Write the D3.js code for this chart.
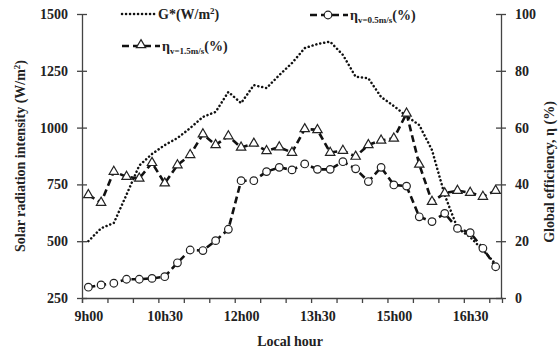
<!DOCTYPE html>
<html>
<head>
<meta charset="utf-8">
<script src="https://cdn.jsdelivr.net/npm/d3@7"></script>
<style>
  body { margin: 0; background: #fff; }
  svg { font-family: "Liberation Serif", "Times New Roman", serif; font-weight: bold; }
  .axis path, .axis line { stroke: #444; stroke-width: 1.3; }
  .axis text { font-size: 14px; fill: #222; font-family: "Liberation Serif", serif; font-weight: bold; }
</style>
</head>
<body>
<svg id="chart" width="560" height="352"></svg>
<script>
// Local hour, every 15 min
const times = ['9h00','9h15','9h30','9h45','10h00','10h15','10h30','10h45',
  '11h00','11h15','11h30','11h45','12h00','12h15','12h30','12h45',
  '13h00','13h15','13h30','13h45','14h00','14h15','14h30','14h45',
  '15h00','15h15','15h30','15h45','16h00','16h15','16h30','16h45','17h00'];

// G* solar radiation (W/m2), left axis
const radiation = [500, 557, 580, 705, 833, 884, 923, 954, 998, 1047, 1069, 1157,
  1108, 1187, 1174, 1231, 1284, 1350, 1368, 1378, 1320, 1224, 1217, 1135,
  1095, 1051, 1011, 901, 703, 558, 518, 461, 400];

// efficiency at v = 0.5 m/s (%), right axis
const eta05 = [3.8, 4.6, 5.2, 6.6, 6.6, 6.9, 7.5, 12.4, 16.9, 16.7, 20.2, 24.2,
  41.3, 41.3, 44.5, 46.0, 45.1, 47.2, 45.3, 45.3, 48.0, 45.5, 41.0, 46.0,
  39.8, 39.4, 28.6, 26.9, 29.8, 24.5, 23.0, 17.5, 11.0];

// efficiency at v = 1.5 m/s (%), right axis
const eta15 = [36.3, 33.6, 44.5, 42.7, 42.1, 47.6, 40.4, 46.8, 50.4, 57.7, 53.9, 57.0,
  53.0, 54.4, 51.8, 53.1, 51.2, 59.5, 59.2, 51.2, 51.9, 49.8, 53.9, 55.5,
  56.2, 65.0, 47.0, 33.9, 36.9, 37.8, 37.1, 35.7, 37.8];

const leftTicks = [250, 500, 750, 1000, 1250, 1500];
const rightTicks = [0, 20, 40, 60, 80, 100];
const labelEvery = 6;

const svg = d3.select('#chart');
const mLeft = 82, mRight = 502, mTop = 14, mBottom = 298;
const n = times.length;

const x = d3.scaleLinear().domain([0, n]).range([mLeft, mRight]);
const px = i => x(i + 0.5);
const yL = d3.scaleLinear().domain([250, 1500]).range([mBottom, mTop]);
const yR = d3.scaleLinear().domain([0, 100]).range([mBottom, mTop]);

// x axis: ticks every 2 slots, labels every 6
svg.append('g').attr('class', 'axis')
  .attr('transform', `translate(0,${mBottom})`)
  .call(d3.axisBottom(x).tickValues(d3.range(0, n, 2)).tickSizeOuter(0)
    .tickSize(5).tickFormat(''));
svg.append('g').attr('class', 'axis')
  .attr('transform', `translate(0,${mBottom})`)
  .call(d3.axisBottom(x).tickValues(d3.range(0, n, labelEvery).map(i => i + 0.5))
    .tickSize(0).tickPadding(13).tickFormat(d => times[Math.floor(d)]))
  .call(g => g.select('.domain').remove());

// left axis
svg.append('g').attr('class', 'axis')
  .attr('transform', `translate(${mLeft},0)`)
  .call(d3.axisLeft(yL).tickValues(leftTicks).tickFormat(d3.format('d'))
    .tickSize(5).tickPadding(9).tickSizeOuter(0))
  .call(g => g.selectAll('.tick line').attr('x1', 5));

// right axis
svg.append('g').attr('class', 'axis')
  .attr('transform', `translate(${mRight - 1},0)`)
  .call(d3.axisRight(yR).tickValues(rightTicks).tickSize(5).tickPadding(9).tickSizeOuter(0))
  .call(g => g.selectAll('.tick line').attr('x1', -5));

// axis titles
svg.append('text')
  .attr('transform', `translate(25,156) rotate(-90)`)
  .attr('text-anchor', 'middle').style('font-size', '14px').attr('fill', '#222')
  .html('Solar radiation intensity (W/m<tspan dy="-5" font-size="9">2</tspan><tspan dy="5">)</tspan>');
svg.append('text')
  .attr('transform', `translate(554,172) rotate(-90)`)
  .attr('text-anchor', 'middle').style('font-size', '14px').attr('fill', '#222')
  .text('Global efficiency, η (%)');
svg.append('text')
  .attr('x', 290).attr('y', 346)
  .attr('text-anchor', 'middle').style('font-size', '14px').attr('fill', '#222')
  .text('Local hour');

// lines
const lineL = d3.line().x((d, i) => px(i)).y(d => yL(d));
const lineR = d3.line().x((d, i) => px(i)).y(d => yR(d));

const dotted = sel => sel.attr('fill', 'none').attr('stroke', '#111')
  .attr('stroke-width', 2.5).attr('stroke-dasharray', '0.1,3.9').attr('stroke-linecap', 'round');

svg.append('path').datum(radiation).attr('d', lineL).call(dotted);

for (const s of [eta15, eta05]) {
  svg.append('path').datum(s)
    .attr('d', lineR).attr('fill', 'none').attr('stroke', '#111')
    .attr('stroke-width', 2.6).attr('stroke-dasharray', '7,4');
}

const tri = d3.symbol().type(d3.symbolTriangle).size(38);
svg.append('g').selectAll('path').data(eta15).join('path')
  .attr('transform', (d, i) => `translate(${px(i)},${yR(d)})`)
  .attr('d', tri).attr('fill', '#fff').attr('stroke', '#222').attr('stroke-width', 1.2);

svg.append('g').selectAll('circle').data(eta05).join('circle')
  .attr('cx', (d, i) => px(i)).attr('cy', d => yR(d)).attr('r', 3.8)
  .attr('fill', '#fff').attr('stroke', '#222').attr('stroke-width', 1.2);

// legend
const leg = svg.append('g');
leg.append('line').attr('x1', 122).attr('x2', 157).attr('y1', 14).attr('y2', 14).call(dotted);
leg.append('text').attr('x', 158).attr('y', 19).style('font-size', '14px').attr('fill', '#222')
  .html('G*(W/m<tspan dy="-5" font-size="9">2</tspan><tspan dy="5">)</tspan>');

leg.append('line').attr('x1', 122).attr('x2', 160).attr('y1', 46).attr('y2', 46)
  .attr('stroke', '#111').attr('stroke-width', 2.6).attr('stroke-dasharray', '7,4');
leg.append('path').attr('transform', 'translate(141,45)').attr('d', tri)
  .attr('fill', '#fff').attr('stroke', '#222').attr('stroke-width', 1.2);
leg.append('text').attr('x', 162).attr('y', 51).style('font-size', '14px').attr('fill', '#222')
  .html('η<tspan dy="3" font-size="9">v=1.5m/s</tspan><tspan dy="-3">(%)</tspan>');

leg.append('line').attr('x1', 310).attr('x2', 348).attr('y1', 15).attr('y2', 15)
  .attr('stroke', '#111').attr('stroke-width', 2.6).attr('stroke-dasharray', '7,4');
leg.append('circle').attr('cx', 328).attr('cy', 15).attr('r', 3.8)
  .attr('fill', '#fff').attr('stroke', '#222').attr('stroke-width', 1.2);
leg.append('text').attr('x', 350).attr('y', 20).style('font-size', '14px').attr('fill', '#222')
  .html('η<tspan dy="3" font-size="9">v=0.5m/s</tspan><tspan dy="-3">(%)</tspan>');
</script>
</body>
</html>
